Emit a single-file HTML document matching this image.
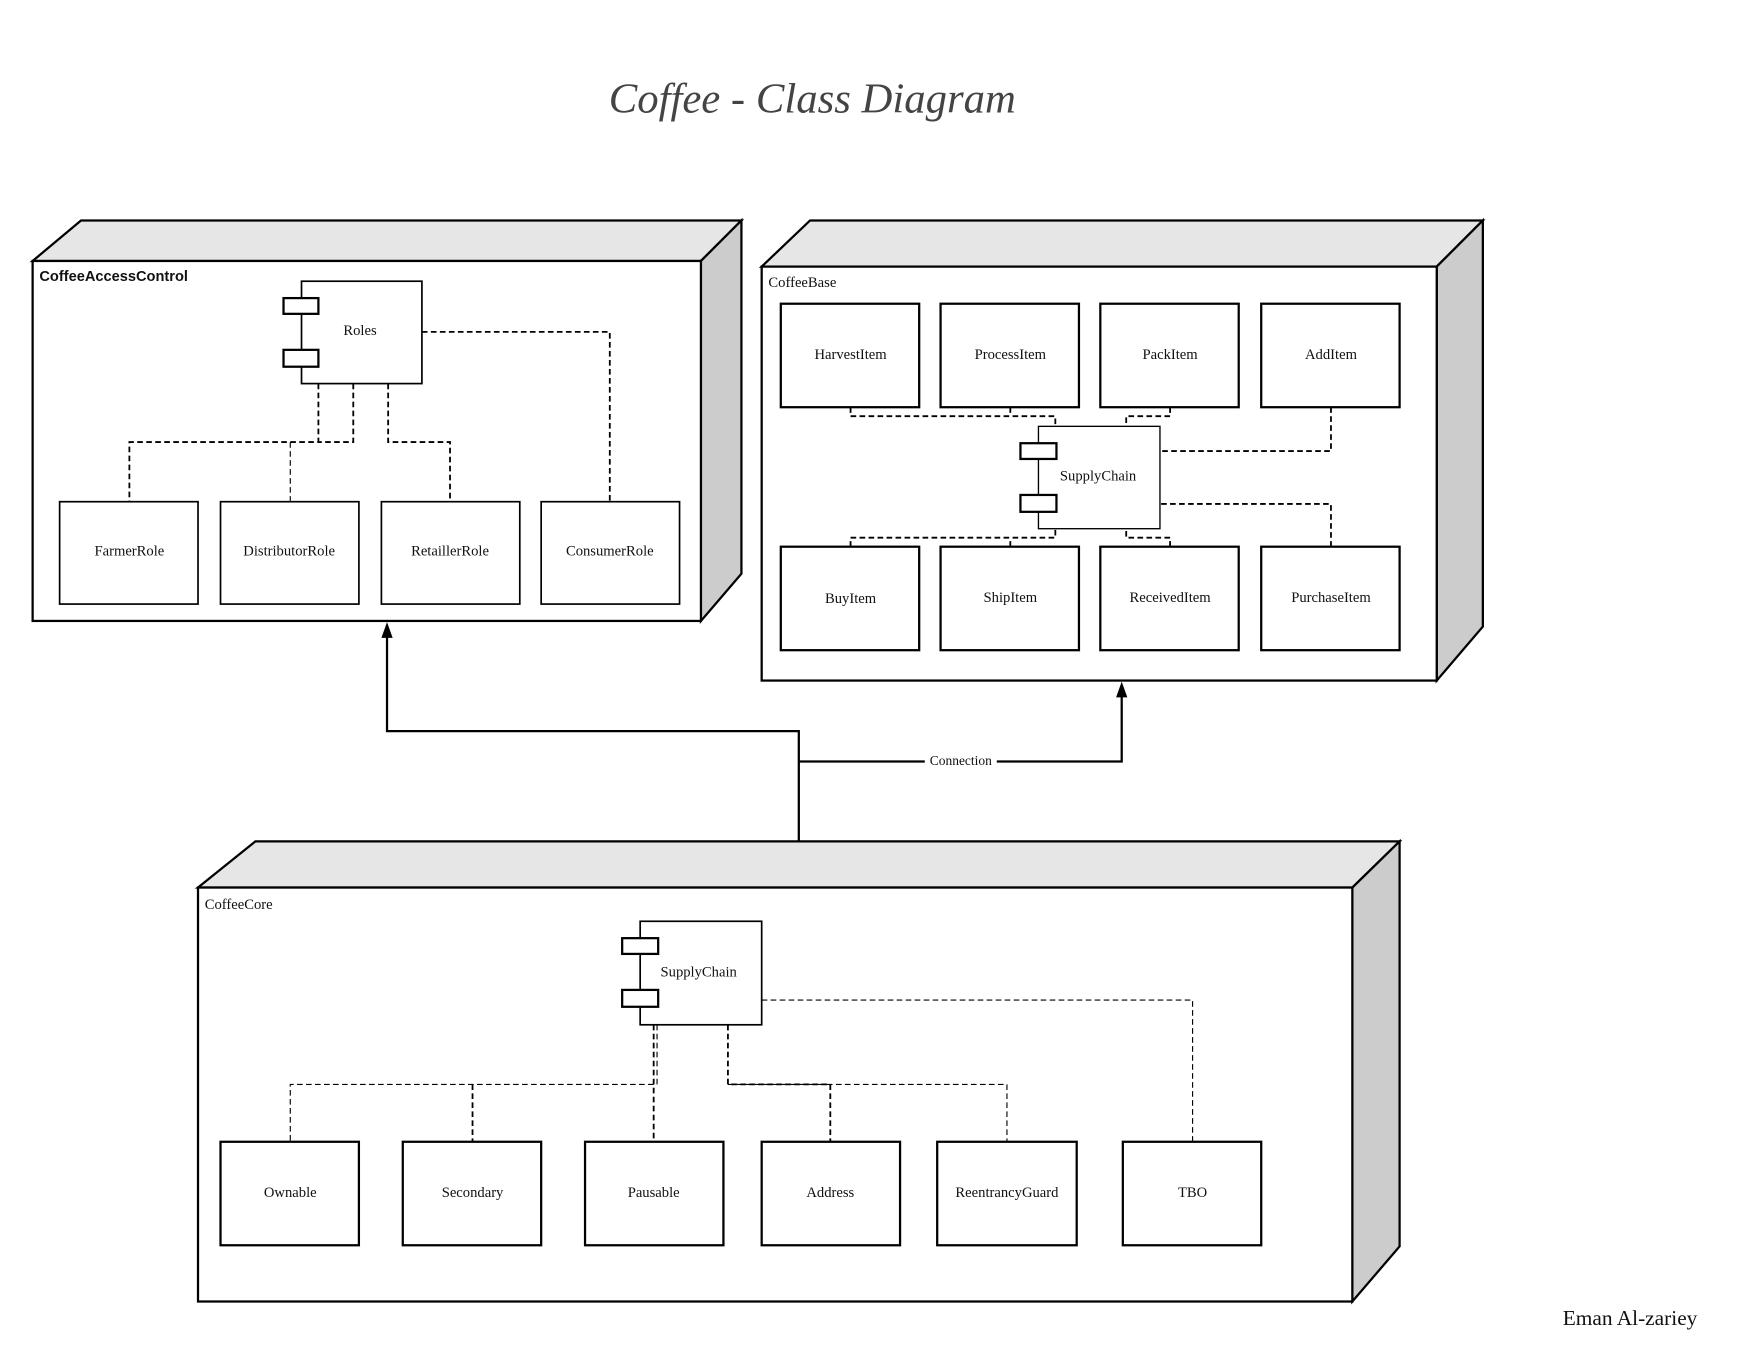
<!DOCTYPE html>
<html><head><meta charset="utf-8"><style>
html,body{margin:0;padding:0;background:#fff;width:1763px;height:1360px;overflow:hidden}
svg{display:block}
text{font-family:"Liberation Serif",serif;font-size:13px;fill:#111}
.b{fill:#fff;stroke:#000;stroke-width:2}
.d{fill:none;stroke:#000;stroke-width:1.6;stroke-dasharray:5,3}
.t{fill:none;stroke:#000;stroke-width:1;stroke-dasharray:5,3}
.top{fill:#e6e6e6;stroke:#000;stroke-width:2}
.side{fill:#cccccc;stroke:#000;stroke-width:2}
</style></head><body>
<svg width="1763" height="1360" viewBox="0 0 1567 1209" preserveAspectRatio="none" xmlns="http://www.w3.org/2000/svg">
<text x="722" y="100" text-anchor="middle" style="font-size:38px;font-style:italic;fill:#444">Coffee - Class Diagram</text>
<text x="1389" y="1178" style="font-size:19px">Eman Al-zariey</text>

<!-- Box1 -->
<polygon class="top" points="29,232 72,196 659,196 623,232"/>
<polygon class="side" points="623,232 659,196 659,510 623,552"/>
<rect class="b" x="29" y="232" width="594" height="320"/>
<text x="35" y="250" style="font-family:'Liberation Sans',sans-serif;font-weight:bold;font-size:13px">CoffeeAccessControl</text>
<path class="d" d="M375,295 H542 V446"/>
<path class="d" d="M283,341 V393 H115 V446 M314,341 V393 H283 M345,341 V393 H400 V446"/>
<path class="t" d="M258,393 V446"/>
<rect class="b" x="268" y="250" width="107" height="91" style="stroke-width:1.5"/>
<rect class="b" x="252" y="265" width="31" height="14"/>
<rect class="b" x="252" y="311" width="31" height="15"/>
<text x="320" y="298" text-anchor="middle">Roles</text>
<rect class="b" x="53" y="446" width="123" height="91" style="stroke-width:1.5"/><text x="115" y="494" text-anchor="middle">FarmerRole</text>
<rect class="b" x="196" y="446" width="123" height="91" style="stroke-width:1.5"/><text x="257" y="494" text-anchor="middle">DistributorRole</text>
<rect class="b" x="339" y="446" width="123" height="91" style="stroke-width:1.5"/><text x="400" y="494" text-anchor="middle">RetaillerRole</text>
<rect class="b" x="481" y="446" width="123" height="91" style="stroke-width:1.5"/><text x="542" y="494" text-anchor="middle">ConsumerRole</text>

<!-- Box2 -->
<polygon class="top" points="677,237 720,196 1318,196 1277,237"/>
<polygon class="side" points="1277,237 1318,196 1318,557 1277,605"/>
<rect class="b" x="677" y="237" width="600" height="368"/>
<text x="683" y="255">CoffeeBase</text>
<path class="d" d="M756,362 V370 H938 V379 M898,362 V370 M1040,362 V370 H1001 V379 M1183,362 V401 H1031"/>
<path class="d" d="M756,486 V478 H938 V470 M898,486 V478 M1040,486 V478 H1001 V470 M1183,486 V448 H1031"/>
<rect class="b" x="923" y="379" width="108" height="91" style="stroke-width:1.2"/>
<rect class="b" x="907" y="394" width="32" height="14"/>
<rect class="b" x="907" y="440" width="32" height="15"/>
<text x="976" y="427" text-anchor="middle">SupplyChain</text>
<rect class="b" x="694" y="270" width="123" height="92"/><text x="756" y="319" text-anchor="middle">HarvestItem</text>
<rect class="b" x="836" y="270" width="123" height="92"/><text x="898" y="319" text-anchor="middle">ProcessItem</text>
<rect class="b" x="978" y="270" width="123" height="92"/><text x="1040" y="319" text-anchor="middle">PackItem</text>
<rect class="b" x="1121" y="270" width="123" height="92"/><text x="1183" y="319" text-anchor="middle">AddItem</text>
<rect class="b" x="694" y="486" width="123" height="92"/><text x="756" y="536" text-anchor="middle">BuyItem</text>
<rect class="b" x="836" y="486" width="123" height="92"/><text x="898" y="535" text-anchor="middle">ShipItem</text>
<rect class="b" x="978" y="486" width="123" height="92"/><text x="1040" y="535" text-anchor="middle">ReceivedItem</text>
<rect class="b" x="1121" y="486" width="123" height="92"/><text x="1183" y="535" text-anchor="middle">PurchaseItem</text>

<!-- Connection -->
<path d="M710,748 V650 H344 V565" fill="none" stroke="#000" stroke-width="2"/>
<path d="M344,553 L339,567 L349,567 Z" fill="#000"/>
<path d="M710,677 H997 V618" fill="none" stroke="#000" stroke-width="2"/>
<path d="M997,606 L992,620 L1002,620 Z" fill="#000"/>
<rect x="822" y="668" width="64" height="15" fill="#fff"/>
<text x="854" y="680" text-anchor="middle" style="font-size:12px">Connection</text>

<!-- Box3 -->
<polygon class="top" points="176,789 227,748 1244,748 1202,789"/>
<polygon class="side" points="1202,789 1244,748 1244,1108 1202,1157"/>
<rect class="b" x="176" y="789" width="1026" height="368"/>
<text x="182" y="808">CoffeeCore</text>
<path class="t" d="M584,911 V964 H258 V1015 M677,889 H1060 V1015 M647,964 H895 V1015"/>
<path class="d" d="M581,911 V1015 M420,964 V1015 M647,911 V964 H738 V1015"/>
<rect class="b" x="569" y="819" width="108" height="92" style="stroke-width:1.5"/>
<rect class="b" x="553" y="834" width="32" height="14"/>
<rect class="b" x="553" y="880" width="32" height="15"/>
<text x="621" y="868" text-anchor="middle">SupplyChain</text>
<rect class="b" x="196" y="1015" width="123" height="92"/><text x="258" y="1064" text-anchor="middle">Ownable</text>
<rect class="b" x="358" y="1015" width="123" height="92"/><text x="420" y="1064" text-anchor="middle">Secondary</text>
<rect class="b" x="520" y="1015" width="123" height="92"/><text x="581" y="1064" text-anchor="middle">Pausable</text>
<rect class="b" x="677" y="1015" width="123" height="92"/><text x="738" y="1064" text-anchor="middle">Address</text>
<rect class="b" x="833" y="1015" width="124" height="92"/><text x="895" y="1064" text-anchor="middle">ReentrancyGuard</text>
<rect class="b" x="998" y="1015" width="123" height="92"/><text x="1060" y="1064" text-anchor="middle">TBO</text>
</svg>
</body></html>
